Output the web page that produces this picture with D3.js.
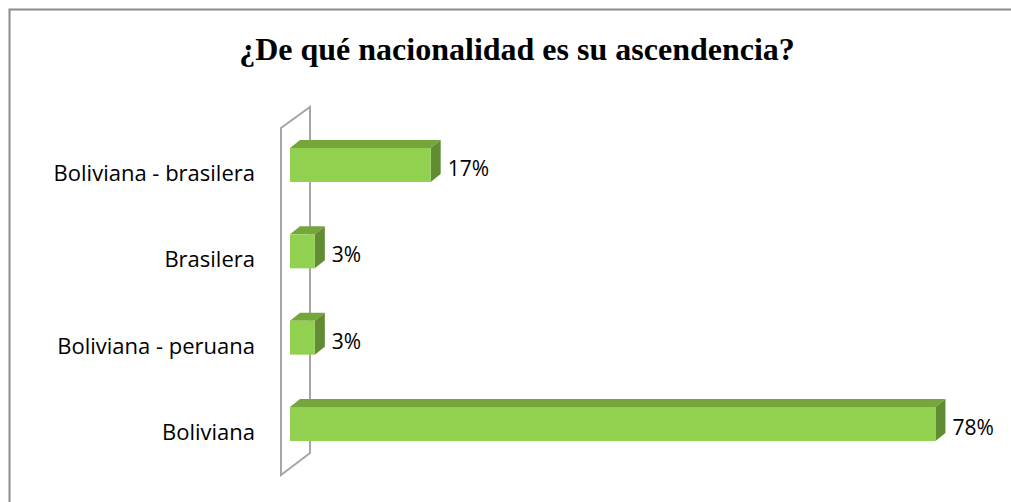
<!DOCTYPE html>
<html>
<head>
<meta charset="utf-8">
<script src="https://cdn.jsdelivr.net/npm/d3@7"></script>
<style>
  body { margin: 0; background: #fff; }
  svg { display: block; }
</style>
</head>
<body>
<svg id="chart" width="1011" height="502"></svg>
<script>
// datos del gráfico (de arriba hacia abajo)
const categories = ["Boliviana - brasilera", "Brasilera", "Boliviana - peruana", "Boliviana"];
const values = [17, 3, 3, 78];
const valueLabels = ["17%", "3%", "3%", "78%"];
const title = "¿De qué nacionalidad es su ascendencia?";

const svg = d3.select("#chart");
const width = +svg.attr("width"), height = +svg.attr("height");

// borde del área del gráfico
svg.append("rect")
    .attr("x", 9.5).attr("y", 9.5)
    .attr("width", width + 20).attr("height", height + 20)
    .attr("fill", "#fff")
    .attr("stroke", "#8c8c8c")
    .attr("stroke-width", 2);

svg.append("text")
    .attr("x", 517).attr("y", 60)
    .attr("text-anchor", "middle")
    .style("font-family", "'Liberation Serif', 'Times New Roman', serif")
    .style("font-weight", "bold")
    .style("font-size", "32px")
    .attr("fill", "#000")
    .text(title);

const x = d3.scaleLinear().domain([0, 80]).range([290, 952]);
const y = d3.scalePoint().domain(categories).range([165, 424]);

const barH = 34, dx = 10, dy = -8;

// pared 3D del eje
const wallX = 281, wallTop = 128, wallBot = 475;
svg.append("path")
    .attr("d", `M${wallX},${wallBot} L${wallX},${wallTop} L${wallX + 29},${wallTop - 21} L${wallX + 29},${wallBot - 22} Z`)
    .attr("fill", "none")
    .attr("stroke", "#a6a6a6")
    .attr("stroke-width", 2);

const bars = svg.append("g")
    .selectAll("g")
    .data(categories.map((c, i) => ({ name: c, value: values[i], label: valueLabels[i] })))
    .join("g");

// cara superior
bars.append("path")
    .attr("d", d => {
        const x0 = x(0), x1 = x(d.value), t = y(d.name) - barH / 2;
        return `M${x0},${t} L${x0 + dx},${t + dy} L${x1 + dx},${t + dy} L${x1},${t} Z`;
    })
    .attr("fill", "#75a63c");

// cara lateral
bars.append("path")
    .attr("d", d => {
        const x1 = x(d.value), t = y(d.name) - barH / 2;
        return `M${x1},${t} L${x1 + dx},${t + dy} L${x1 + dx},${t + dy + barH} L${x1},${t + barH} Z`;
    })
    .attr("fill", "#628c33");

// cara frontal
bars.append("rect")
    .attr("x", x(0))
    .attr("y", d => y(d.name) - barH / 2)
    .attr("width", d => x(d.value) - x(0))
    .attr("height", barH)
    .attr("fill", "#92d050");

bars.append("text")
    .attr("x", d => x(d.value) + dx + 7)
    .attr("y", d => y(d.name) + 11)
    .style("font-family", "'Open Sans', 'Noto Sans', sans-serif")
    .style("font-size", "21px")
    .attr("fill", "#000")
    .text(d => d.label);

bars.append("text")
    .attr("x", 255)
    .attr("y", d => y(d.name) + 16)
    .attr("text-anchor", "end")
    .style("font-family", "'Open Sans', 'Noto Sans', sans-serif")
    .style("font-size", "22px")
    .attr("fill", "#000")
    .text(d => d.name);
</script>
</body>
</html>
